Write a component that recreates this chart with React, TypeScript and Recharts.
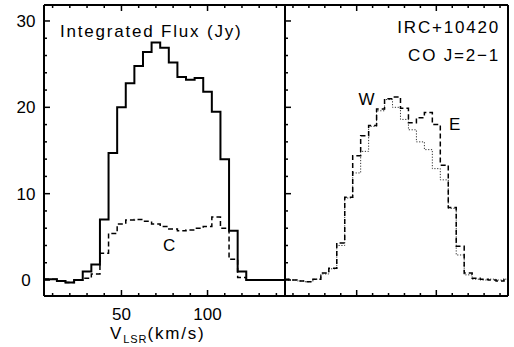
import React from 'react';
import { LineChart, Line, XAxis, YAxis } from 'recharts';

// Channel velocities (km/s)
const velocity = [5, 10, 15, 20, 25, 30, 35, 40, 45, 50, 55, 60, 65, 70, 75, 80, 85, 90, 95, 100, 105, 110, 115, 120, 125, 130, 135, 140, 145];
// Left panel: integrated flux (solid) and central component C (dashed)
const totalFlux = [0.1, 0.1, -0.1, -0.3, 0, 1.0, 1.8, 7.0, 14.7, 20.0, 22.8, 24.8, 26.4, 27.5, 26.9, 25.2, 23.5, 23.2, 23.4, 21.8, 19.5, 14.0, 5.7, 1.0, 0, 0, 0, 0, 0];
const centralFlux = [0.1, 0.1, -0.1, -0.3, 0, 0.2, 0.7, 3.1, 5.4, 6.5, 6.95, 7.0, 6.8, 6.5, 6.2, 5.9, 5.7, 5.8, 6.0, 6.2, 7.3, 6.0, 2.4, 0.3, 0, 0, 0, 0, 0];
// Right panel: east (dashed) and west (dotted)
const eastFlux = [0.1, 0.0, -0.1, -0.2, 0.1, 0.8, 1.35, 4.3, 9.6, 14.4, 16.7, 17.9, 19.8, 21.0, 21.2, 19.9, 18.2, 18.8, 19.4, 18.0, 13.3, 8.4, 3.9, 0.8, 0.2, 0.1, 0.0, -0.1, 0.1];
const westFlux = [0.1, 0.0, -0.1, -0.2, 0.1, 0.7, 1.3, 4.0, 9.5, 12.4, 14.9, 17.8, 19.6, 20.9, 20.0, 18.6, 17.4, 16.0, 15.1, 12.9, 11.6, 8.3, 2.9, 0.6, 0.1, 0.0, 0.1, 0.0, 0.1];

const xTicks = [10, 20, 30, 40, 50, 60, 70, 80, 90, 100, 110, 120, 130, 140];
const xMajorTicks = [50, 100];
const yTicks = [0, 2, 4, 6, 8, 10, 12, 14, 16, 18, 20, 22, 24, 26, 28, 30];
const yMajorTicks = [0, 10, 20, 30];

const leftData = velocity.map((v, i) => ({ v, total: totalFlux[i], central: centralFlux[i] }));
const rightData = velocity.map((v, i) => ({ v, east: eastFlux[i], west: westFlux[i] }));

const FONT = "'Liberation Sans', Arial, Helvetica, sans-serif";

const mk = (dx: number, dy: number, majors: number[], labelDx: number | null, labelDy: number) => (props: any) => {
  const { x, y, payload } = props;
  const major = majors.includes(payload.value);
  const len = major ? 6 : 3;
  return (
    <g>
      <path d={`M${x},${y}L${x + dx * len},${y + dy * len}`} stroke="#000" strokeWidth={1.5} fill="none" />
      {major && labelDx !== null && (
        <text x={x + labelDx} y={y + labelDy} textAnchor="middle" fontFamily={FONT} fontSize={17} fill="#000">
          {payload.value}
        </text>
      )}
    </g>
  );
};

const bottomLabelTick = mk(0, -1, xMajorTicks, 0, 24);
const bottomTick = mk(0, -1, xMajorTicks, null, 0);
const topTick = mk(0, 1, xMajorTicks, null, 0);
const leftLabelTick = mk(1, 0, yMajorTicks, -18, 6);
const leftTick = mk(1, 0, yMajorTicks, null, 0);
const rightTick = mk(-1, 0, yMajorTicks, null, 0);

const txt: React.CSSProperties = {
  position: 'absolute',
  fontFamily: FONT,
  fontSize: 17,
  lineHeight: '17px',
  letterSpacing: '1.8px',
  whiteSpace: 'nowrap',
  color: '#000',
  pointerEvents: 'none',
};

// A chart holding one series with hidden axes, laid over the framed panel
const SeriesChart = ({ data, width, margin, dataKey, stroke, strokeWidth, dash }: any) => (
  <LineChart width={width} height={347} data={data} margin={margin}>
    <XAxis dataKey="v" type="number" domain={[5, 145]} hide />
    <YAxis type="number" domain={[-1.85, 31.85]} hide />
    <Line type="step" dataKey={dataKey} stroke={stroke} strokeWidth={strokeWidth} strokeDasharray={dash}
      dot={false} isAnimationActive={false} />
  </LineChart>
);

export default function App() {
  return (
    <div style={{ position: 'absolute', left: 0, top: 0, width: 514, height: 347, background: '#fff' }}>
      <div style={{ position: 'absolute', left: 0, top: 0 }}>
        <LineChart width={290} height={347} data={leftData} margin={{ top: 4, right: 4, bottom: 0, left: 0 }}>
          <XAxis xAxisId="b" dataKey="v" type="number" domain={[5, 145]} ticks={xTicks} interval={0}
            height={51} tickSize={0} tickMargin={0} tickLine={false} axisLine={{ stroke: '#000', strokeWidth: 2 }} tick={bottomLabelTick} />
          <XAxis xAxisId="t" dataKey="v" type="number" domain={[5, 145]} ticks={xTicks} interval={0} orientation="top"
            height={1} tickSize={0} tickMargin={0} tickLine={false} axisLine={{ stroke: '#000', strokeWidth: 2 }} tick={topTick} />
          <YAxis yAxisId="l" type="number" domain={[-1.85, 31.85]} ticks={yTicks} interval={0}
            width={44} tickSize={0} tickMargin={0} tickLine={false} axisLine={{ stroke: '#000', strokeWidth: 2 }} tick={leftLabelTick} />
          <YAxis yAxisId="r" type="number" domain={[-1.85, 31.85]} ticks={yTicks} interval={0} orientation="right"
            width={1} tickSize={0} tickMargin={0} tickLine={false} axisLine={{ stroke: '#000', strokeWidth: 2 }} tick={rightTick} />
          <Line xAxisId="b" yAxisId="l" type="step" dataKey="total" stroke="#000" strokeWidth={2}
            dot={false} isAnimationActive={false} />
        </LineChart>
      </div>
      <div style={{ position: 'absolute', left: 0, top: 0 }}>
        <SeriesChart data={leftData} width={290} margin={{ top: 5, right: 5, bottom: 51, left: 44 }}
          dataKey="central" stroke="#000" strokeWidth={1.5} dash="5 3" />
      </div>
      <div style={{ position: 'absolute', left: 280, top: 0 }}>
        <LineChart width={234} height={347} data={rightData} margin={{ top: 4, right: 5, bottom: 0, left: 4 }}>
          <XAxis xAxisId="b" dataKey="v" type="number" domain={[5, 145]} ticks={xTicks} interval={0}
            height={51} tickSize={0} tickMargin={0} tickLine={false} axisLine={{ stroke: '#000', strokeWidth: 2 }} tick={bottomTick} />
          <XAxis xAxisId="t" dataKey="v" type="number" domain={[5, 145]} ticks={xTicks} interval={0} orientation="top"
            height={1} tickSize={0} tickMargin={0} tickLine={false} axisLine={{ stroke: '#000', strokeWidth: 2 }} tick={topTick} />
          <YAxis yAxisId="l" type="number" domain={[-1.85, 31.85]} ticks={yTicks} interval={0}
            width={1} tickSize={0} tickMargin={0} tickLine={false} axisLine={{ stroke: '#000', strokeWidth: 2 }} tick={leftTick} />
          <YAxis yAxisId="r" type="number" domain={[-1.85, 31.85]} ticks={yTicks} interval={0} orientation="right"
            width={1} tickSize={0} tickMargin={0} tickLine={false} axisLine={{ stroke: '#000', strokeWidth: 2 }} tick={rightTick} />
          <Line xAxisId="b" yAxisId="l" type="step" dataKey="east" stroke="none" strokeWidth={1}
            dot={false} isAnimationActive={false} />
        </LineChart>
      </div>
      <div style={{ position: 'absolute', left: 280, top: 0 }}>
        <SeriesChart data={rightData} width={234} margin={{ top: 5, right: 6, bottom: 51, left: 5 }}
          dataKey="west" stroke="#333" strokeWidth={1} dash="1.2 1.6" />
      </div>
      <div style={{ position: 'absolute', left: 280, top: 0 }}>
        <SeriesChart data={rightData} width={234} margin={{ top: 5, right: 6, bottom: 51, left: 5 }}
          dataKey="east" stroke="#000" strokeWidth={1.5} dash="5 3" />
      </div>
      <span style={{ ...txt, left: 60, top: 22.6 }}>Integrated Flux (Jy)</span>
      <span style={{ ...txt, right: 14, top: 19.1 }}>IRC+10420</span>
      <span style={{ ...txt, right: 14, top: 47.1 }}>CO J=2−1</span>
      <span style={{ ...txt, left: 367.5, top: 90.6, transform: 'translateX(-50%)' }}>W</span>
      <span style={{ ...txt, left: 449, top: 116.1 }}>E</span>
      <span style={{ ...txt, left: 170, top: 237.1, transform: 'translateX(-50%)' }}>C</span>
      <span style={{ ...txt, left: 110, top: 324.6 }}>
        V<span style={{ fontSize: 11, letterSpacing: '1px', position: 'relative', top: 4 }}>LSR</span>(km/s)
      </span>
    </div>
  );
}
